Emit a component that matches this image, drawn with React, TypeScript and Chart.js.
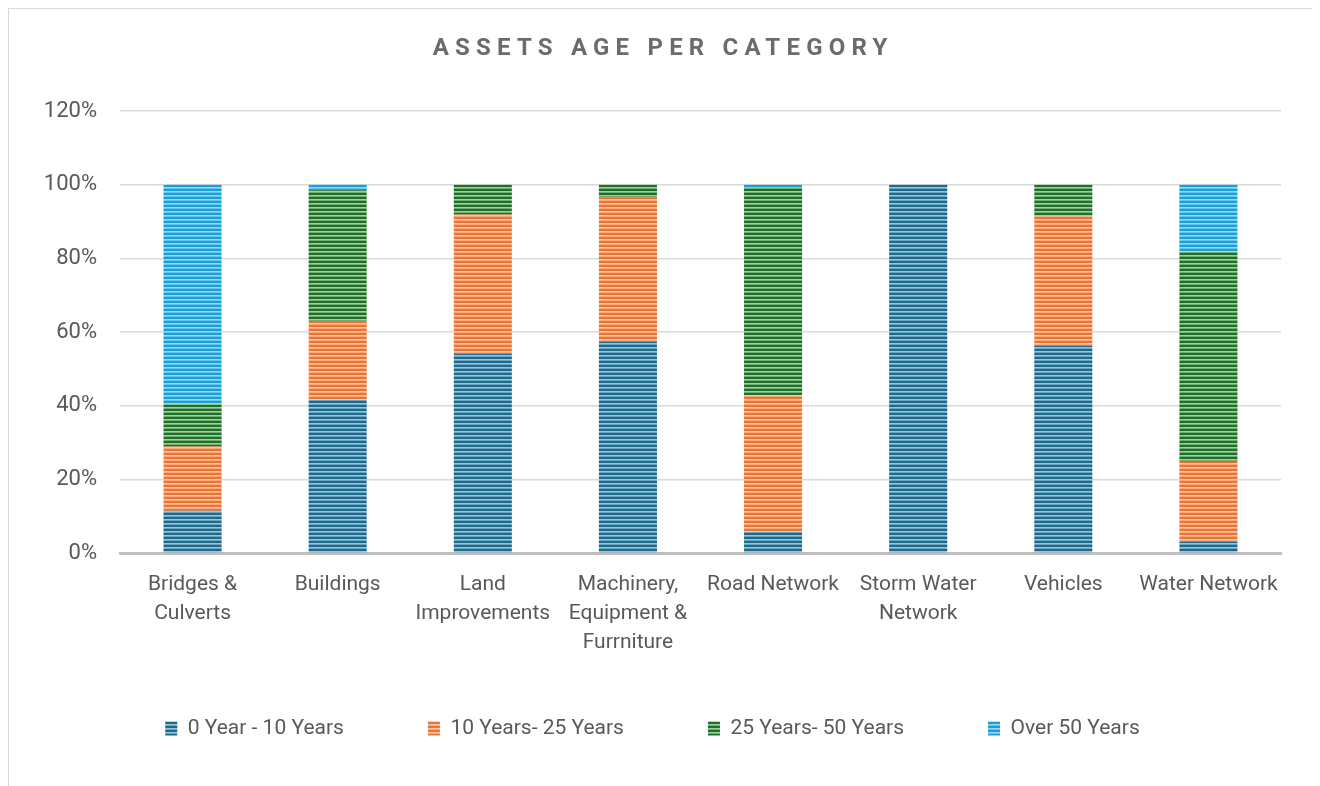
import React, { useEffect, useRef } from "react";
import { Chart, registerables } from "chart.js";

Chart.register(...registerables);

const titleText = "ASSETS AGE PER CATEGORY";

const categories: (string | string[])[] = [
  ["Bridges &", "Culverts"],
  "Buildings",
  ["Land", "Improvements"],
  ["Machinery,", "Equipment &", "Furrniture"],
  "Road Network",
  ["Storm Water", "Network"],
  "Vehicles",
  "Water Network",
];

const seriesNames = ["0 Year - 10 Years", "10 Years- 25 Years", "25 Years- 50 Years", "Over 50 Years"];

const age0to10 = [11.5, 41.7, 54.0, 57.3, 5.7, 100, 56.2, 3.0];
const age10to25 = [17.4, 21.3, 37.9, 39.2, 37.1, 0, 35.2, 21.8];
const age25to50 = [11.5, 35.5, 8.1, 3.5, 56.6, 0, 8.6, 57.0];
const over50 = [59.6, 1.5, 0, 0, 0.6, 0, 0, 18.2];

const yTicks = [0, 20, 40, 60, 80, 100, 120];

const fgColors = ["#1d6a8e", "#ea7433", "#1f6e2a", "#15a0d8"];
const bgColors = ["#9cc3d6", "#f8c6a6", "#9bd19c", "#9ad6f0"];

function makePattern(fg: string, bg: string): CanvasPattern | string {
  const c = document.createElement("canvas");
  c.width = 8;
  c.height = 4;
  const x = c.getContext("2d");
  if (!x) return fg;
  x.fillStyle = bg;
  x.fillRect(0, 0, 8, 4);
  x.fillStyle = fg;
  x.fillRect(0, 0, 8, 2);
  x.globalAlpha = 0.35;
  x.fillRect(0, 3, 8, 1);
  const p = x.createPattern(c, "repeat");
  return p || fg;
}

const FONT = "Roboto, 'Open Sans', sans-serif";

const titlePlugin = {
  id: "spacedTitle",
  afterDraw(chart: any) {
    const ctx = chart.ctx as CanvasRenderingContext2D;
    ctx.save();
    ctx.font = `bold 24px ${FONT}`;
    (ctx as any).letterSpacing = "6.2px";
    ctx.fillStyle = "#6b6b6b";
    ctx.textBaseline = "middle";
    ctx.textAlign = "left";
    const w = ctx.measureText(titleText).width - 6.2;
    const cx = 651;
    ctx.fillText(titleText, cx - w / 2, 40);
    ctx.restore();
  },
};

// Raise the legend row closer to the axis labels.
const legendShift = {
  id: "legendShift",
  beforeDraw(chart: any) {
    const lg = chart.legend;
    if (lg && !lg.__shifted) {
      const orig = lg.draw.bind(lg);
      lg.draw = function () {
        const ctx = chart.ctx as CanvasRenderingContext2D;
        ctx.save();
        ctx.translate(0, -39);
        orig();
        ctx.restore();
      };
      lg.__shifted = true;
    }
  },
};

export default function App() {
  const ref = useRef<HTMLCanvasElement | null>(null);

  useEffect(() => {
    document.body.style.overflow = "hidden";
    if (!ref.current) return;
    const values = [age0to10, age10to25, age25to50, over50];
    const chart = new Chart(ref.current, {
      type: "bar",
      data: {
        labels: categories,
        datasets: values.map((v, i) => ({
          label: seriesNames[i],
          data: v,
          backgroundColor: makePattern(fgColors[i], bgColors[i]) as any,
          borderWidth: 0,
          barPercentage: 0.8,
          categoryPercentage: 0.5,
        })),
      },
      options: {
        animation: false,
        responsive: true,
        maintainAspectRatio: false,
        layout: { padding: { top: 102, right: 34, left: 15, bottom: 11 } },
        plugins: {
          title: { display: false },
          tooltip: { enabled: false },
          legend: {
            position: "bottom",
            labels: {
              boxWidth: 12,
              boxHeight: 14,
              padding: 84,
              color: "#595959",
              font: { family: FONT, size: 21 },
            },
          },
        },
        scales: {
          x: {
            stacked: true,
            grid: { display: false },
            border: { display: true, color: "#bfbfbf", width: 3 },
            ticks: {
              color: "#595959",
              font: { family: FONT, size: 21, lineHeight: 1.38 },
              maxRotation: 0,
              autoSkip: false,
              padding: 9,
            },
            afterFit(scale: any) {
              scale.height = 120;
            },
          },
          y: {
            stacked: true,
            min: 0,
            max: 120,
            afterBuildTicks(scale: any) {
              scale.ticks = yTicks.map((v) => ({ value: v }));
            },
            afterFit(scale: any) {
              scale.width = 96;
            },
            grid: { color: "#d9d9d9", lineWidth: 1.5, drawTicks: false },
            border: { display: false },
            ticks: {
              color: "#595959",
              font: { family: FONT, size: 22 },
              padding: 23,
              callback: (v: any) => `${v}%`,
            },
          },
        },
      },
      plugins: [titlePlugin, legendShift],
    });
    return () => chart.destroy();
  }, []);

  return (
    <div
      style={{
        width: 1306,
        height: 790,
        border: "1px solid #d9d9d9",
        boxSizing: "content-box",
        position: "relative",
        background: "#fff",
      }}
    >
      <canvas ref={ref} />
    </div>
  );
}
